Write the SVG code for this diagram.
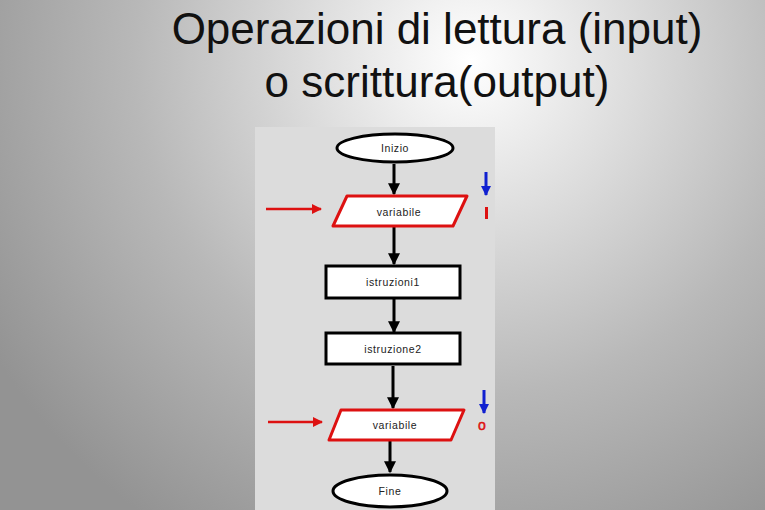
<svg xmlns="http://www.w3.org/2000/svg" width="765" height="510" viewBox="0 0 765 510">
<defs>
<radialGradient id="bg" cx="470" cy="60" r="560" gradientUnits="userSpaceOnUse">
<stop offset="0" stop-color="#ffffff"/>
<stop offset="0.6" stop-color="#b8b8b8"/>
<stop offset="1" stop-color="#939393"/>
</radialGradient>
<marker id="ah" viewBox="0 0 10 10" refX="9" refY="5" markerWidth="4" markerHeight="4" orient="auto" markerUnits="strokeWidth">
<path d="M0,0 L10,5 L0,10 z" fill="#000"/>
</marker>
<marker id="ar" viewBox="0 0 10 10" refX="9" refY="5" markerWidth="4" markerHeight="4" orient="auto" markerUnits="strokeWidth">
<path d="M0,0 L10,5 L0,10 z" fill="#dd1111"/>
</marker>
<marker id="ab" viewBox="0 0 10 10" refX="9" refY="5" markerWidth="3.5" markerHeight="3.5" orient="auto" markerUnits="strokeWidth">
<path d="M0,0 L10,5 L0,10 z" fill="#1020d0"/>
</marker>
</defs>
<style>
.title{font-family:"Liberation Sans",Arial,sans-serif;font-size:44px;fill:#111;text-anchor:middle}
.lbl{font-family:"Liberation Sans",Arial,sans-serif;font-size:10.5px;letter-spacing:0.6px;fill:#222;text-anchor:middle;dominant-baseline:central}
.term{fill:#fff;stroke:#000;stroke-width:3}
.box{fill:#fff;stroke:#000;stroke-width:3}
.io{fill:#fff;stroke:#dd1111;stroke-width:3;stroke-linejoin:round}
.conn{stroke:#000;stroke-width:3;fill:none}
.red{stroke:#dd1111;stroke-width:2.5;fill:none}
.blue{stroke:#1020d0;stroke-width:3;fill:none}
.mark{font-family:"Liberation Sans",Arial,sans-serif;font-size:14px;fill:#dd1111;stroke:#dd1111;stroke-width:0.5;text-anchor:middle}
</style>
<rect width="765" height="510" fill="url(#bg)"/>
<text class="title" x="437" y="44">Operazioni di lettura (input)</text>
<text class="title" x="437" y="97">o scrittura(output)</text>
<rect x="255" y="127" width="240" height="383" fill="#dcdcdc"/>
<g id="connectors">
<line class="conn" x1="394" y1="164" x2="394" y2="194" marker-end="url(#ah)"/>
<line class="conn" x1="394" y1="227" x2="394" y2="264" marker-end="url(#ah)"/>
<line class="conn" x1="394" y1="299" x2="394" y2="332" marker-end="url(#ah)"/>
<line class="conn" x1="393" y1="366" x2="393" y2="408" marker-end="url(#ah)"/>
<line class="conn" x1="390" y1="441" x2="390" y2="472" marker-end="url(#ah)"/>
<line class="red" x1="266" y1="209" x2="321" y2="209" marker-end="url(#ar)"/>
<line class="red" x1="268" y1="422" x2="322" y2="422" marker-end="url(#ar)"/>
<line class="blue" x1="486" y1="172" x2="486" y2="195" marker-end="url(#ab)"/>
<line class="blue" x1="484" y1="390" x2="484" y2="413" marker-end="url(#ab)"/>
</g>
<g id="inizio">
<ellipse class="term" cx="395" cy="148" rx="58" ry="14"/>
<text class="lbl" x="395" y="148">Inizio</text>
</g>
<g id="input">
<polygon class="io" points="347,196 467,196 453,226 333,226"/>
<text class="lbl" x="399" y="212">variabile</text>
</g>
<g id="istruzioni1">
<rect class="box" x="326" y="266" width="134" height="32"/>
<text class="lbl" x="393" y="282">istruzioni1</text>
</g>
<g id="istruzione2">
<rect class="box" x="326" y="333" width="134" height="31"/>
<text class="lbl" x="393" y="349">istruzione2</text>
</g>
<g id="output">
<polygon class="io" points="341,410 464,410 451,440 329,440"/>
<text class="lbl" x="395" y="425">variabile</text>
</g>
<g id="fine">
<ellipse class="term" cx="390" cy="491" rx="57" ry="16"/>
<text class="lbl" x="390" y="491">Fine</text>
</g>
<g id="markers">
<rect x="485" y="207" width="3" height="12" fill="#dd1111"/>
<text class="mark" x="482" y="430">o</text>
</g>
</svg>
